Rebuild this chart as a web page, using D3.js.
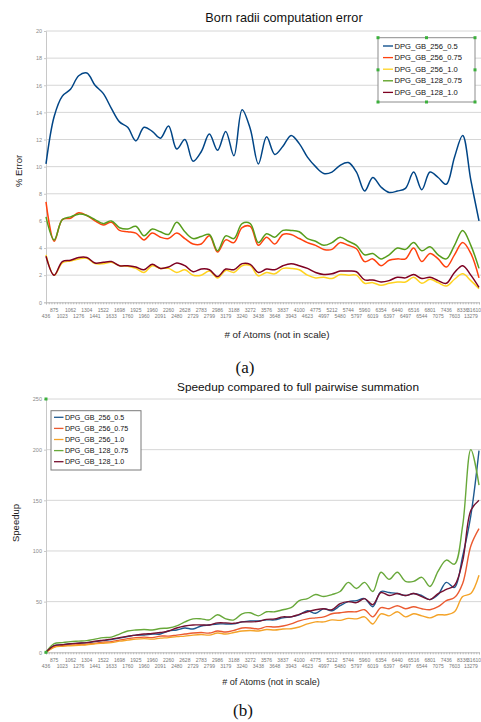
<!DOCTYPE html>
<html>
<head>
<meta charset="utf-8">
<script src="https://cdnjs.cloudflare.com/ajax/libs/d3/7.8.5/d3.min.js"></script>
<style>
  body { margin: 0; background: #fff; }
  svg { display: block; font-family: "Liberation Sans", Arial, sans-serif; }
</style>
</head>
<body>
<div class="figure"></div>
<script>
var atoms = ["436", "875", "1023", "1062", "1276", "1304", "1441", "1522", "1633", "1698",
    "1760", "1925", "1960", "1960", "2091", "2260", "2480", "2628", "2729", "2783",
    "2799", "2986", "3179", "3188", "3240", "3272", "3438", "3576", "3648", "3837",
    "3943", "4100", "4623", "4775", "4997", "5212", "5480", "5744", "5797", "5960",
    "6019", "6354", "6397", "6440", "6497", "6516", "6544", "6801", "7075", "7436",
    "7603", "8336", "13279", "31610"];
var seriesNames = ["DPG_GB_256_0.5", "DPG_GB_256_0.75", "DPG_GB_256_1.0", "DPG_GB_128_0.75", "DPG_GB_128_1.0"];

// (a) % error
var err256_05 = [10.2, 13.7, 15.2, 15.7, 16.7, 16.9, 16.0, 15.4, 14.3, 13.3,
    12.9, 11.9, 12.9, 12.6, 12.1, 13.0, 11.3, 12.0, 10.4, 11.1,
    12.4, 11.2, 12.6, 10.8, 14.2, 12.8, 10.2, 12.2, 10.9, 11.5,
    12.3, 11.7, 10.7, 10.0, 9.5, 9.6, 10.1, 10.3, 9.6, 8.2,
    9.2, 8.5, 8.1, 8.2, 8.4, 9.6, 8.3, 9.6, 9.2, 8.7,
    10.7, 12.3, 9.0, 6.0];
var err256_075 = [7.4, 4.5, 6.1, 6.2, 6.6, 6.4, 6.0, 5.7, 5.9, 5.3,
    5.2, 5.1, 4.6, 5.1, 4.8, 4.7, 5.1, 4.7, 4.3, 4.3,
    4.9, 3.7, 4.6, 4.4, 5.5, 5.6, 4.2, 4.8, 4.3, 5.0,
    5.0, 4.7, 4.4, 4.2, 3.9, 3.9, 4.4, 4.2, 3.95, 3.0,
    3.2, 2.7, 3.1, 3.2, 3.2, 4.0, 3.0, 3.6, 3.2, 2.6,
    3.5, 4.4, 3.6, 1.8];
var err256_10 = [3.5, 2.0, 2.9, 3.05, 3.2, 3.25, 2.85, 2.85, 2.95, 2.7,
    2.65, 2.5, 2.2, 2.7, 2.5, 2.5, 2.2, 2.4, 2.0, 2.0,
    2.3, 1.8, 2.35, 2.2, 2.7, 2.7, 1.95, 2.2, 2.1, 2.5,
    2.5, 2.4, 2.0, 1.8, 1.85, 1.75, 2.05, 2.0, 2.0, 1.4,
    1.45, 1.25, 1.4, 1.5, 1.5, 1.85, 1.4, 1.7, 1.45, 1.2,
    1.7, 2.1, 1.6, 1.0];
var err128_075 = [6.3, 4.6, 6.1, 6.3, 6.5, 6.4, 6.1, 5.8, 6.0, 5.5,
    5.4, 5.6, 4.9, 5.4, 5.2, 5.0, 5.9, 5.2, 4.7, 4.85,
    5.0, 3.8, 4.9, 4.7, 5.8, 5.8, 4.4, 5.05, 4.8, 5.3,
    5.3, 5.2, 4.7, 4.5, 4.2, 4.4, 4.8, 4.5, 4.2, 3.5,
    3.6, 3.2, 3.5, 4.0, 3.9, 4.4, 3.8, 4.1, 3.5, 3.2,
    4.2, 5.3, 4.2, 2.5];
var err128_10 = [3.4, 2.0, 3.0, 3.1, 3.3, 3.3, 2.9, 2.95, 3.0, 2.7,
    2.7, 2.6, 2.4, 2.8, 2.5, 2.6, 2.9, 2.7, 2.25, 2.45,
    2.4, 1.9, 2.45, 2.4, 2.85, 2.8, 2.2, 2.45, 2.4, 2.7,
    2.85, 2.7, 2.5, 2.2, 2.05, 2.1, 2.3, 2.3, 2.25, 1.65,
    1.65, 1.5, 1.6, 1.85, 1.8, 2.05, 1.75, 1.85, 1.6, 1.4,
    2.2, 2.7, 2.0, 1.1];

// (b) speedup
var sp256_05 = [0, 6.5, 7.5, 8.5, 9, 9.5, 10.5, 11.5, 12.5, 14,
    15.5, 17, 17, 18, 18, 21, 22, 24, 23, 26,
    27, 28, 28, 28, 30, 31, 31, 32, 32, 34,
    35, 37, 41, 38.5, 43, 41, 46, 50, 51, 53,
    45, 60, 59, 58, 56, 58, 56, 52, 57, 69,
    64, 95, 135, 199];
var sp256_075 = [0, 5.5, 6.5, 7, 7.5, 8, 9, 10, 10.5, 12,
    13.5, 14.5, 15, 14.5, 16, 16, 17, 18, 19, 19.5,
    19, 21, 20, 21.7, 24, 24, 23, 25.3, 25, 26,
    28, 31, 33, 34, 35, 38, 39, 40, 40, 42,
    35, 44, 43, 46, 43, 45, 43, 42, 45, 51,
    54, 68, 105, 122];
var sp256_10 = [0, 5, 6, 6.5, 7, 7.5, 8.5, 9, 9.5, 11,
    12, 13, 13.5, 13, 14, 14.5, 15.5, 16, 17, 17.5,
    17, 19, 18, 19.5, 21, 21.5, 21, 22.5, 22, 23,
    23.3, 25, 28, 30, 30, 32, 31.5, 33.5, 33, 35,
    28, 38, 36, 40, 35, 38, 36, 34, 37, 37,
    40, 55, 58, 76];
var sp128_075 = [0, 8.5, 9.5, 10.5, 11, 11.5, 13, 14.5, 15, 18,
    21, 22, 22.5, 22, 23.5, 24, 26, 30, 33, 33,
    32, 37, 33, 32, 38, 39, 36, 40, 40, 42,
    44, 51, 53, 57, 55, 57, 60, 69, 63, 69,
    60, 79, 72, 79, 70, 70, 74, 65, 80, 91,
    87, 125, 200, 165];
var sp128_10 = [0, 6.5, 7.5, 8.5, 9, 9.5, 11, 12, 13, 14.5,
    16, 17, 18, 18.5, 19.5, 21, 24, 26, 27, 27,
    27, 29, 29, 28.6, 30, 30, 30.5, 32.5, 33, 35,
    35, 37.5, 40, 42, 43, 42, 48, 50, 49, 53,
    47, 59, 56, 58, 56, 58, 55, 52, 58, 62,
    66, 90, 140, 150];

var svg = d3.select(".figure")
    .append("svg")
    .attr("width", 481)
    .attr("height", 722);

function handle(g, hx, hy) {
    g.append("rect")
        .attr("x", hx - 1.5).attr("y", hy - 1.5)
        .attr("width", 3).attr("height", 3)
        .attr("fill", "#3cb03c");
}

function drawChart(c) {
    var x = d3.scaleLinear().domain([0, atoms.length - 1]).range([46, 479]);
    var y = d3.scaleLinear().domain([0, c.yMax]).range([c.bottom, c.top]);
    var g = svg.append("g");

    // horizontal grid
    g.selectAll(".grid")
        .data(d3.range(c.yStep, c.yMax + 0.001, c.yStep))
        .enter().append("line")
        .attr("x1", 46).attr("x2", 481)
        .attr("y1", d => y(d)).attr("y2", d => y(d))
        .attr("stroke", "#d6d6d6")
        .attr("stroke-width", 1);

    // y axis
    var yAxis = g.append("g")
        .attr("transform", "translate(46,0)")
        .call(d3.axisLeft(y).tickValues(d3.range(0, c.yMax + 0.001, c.yStep)).tickSize(2).tickPadding(2));
    yAxis.selectAll("path, line").attr("stroke", "#c8c8c8");
    yAxis.selectAll("text").attr("font-size", "5.5px").attr("fill", "#8a8a8a")
        .style("font-family", "'Liberation Sans', Arial, sans-serif");

    // x axis with dense minor ticks
    var xAxis = g.append("g")
        .attr("transform", "translate(0," + c.bottom + ")")
        .call(d3.axisBottom(x).tickValues(d3.range(0, atoms.length - 1 + 0.001, 1 / 3)).tickSize(2).tickFormat(""));
    xAxis.selectAll("path, line").attr("stroke", "#b8b8b8");

    var last = atoms.length - 1;
    g.selectAll(".atom")
        .data(atoms)
        .enter().append("text")
        .text(d => d)
        .attr("x", (d, i) => i == last ? 481 : x(i))
        .attr("y", (d, i) => c.bottom + (i % 2 == 1 ? 9.5 : 15.5))
        .attr("text-anchor", (d, i) => i == last ? "end" : "middle")
        .attr("font-size", "5px")
        .attr("fill", "#777");

    // lines
    var line = d3.line()
        .x((d, i) => x(i))
        .y(d => y(d))
        .curve(d3.curveCatmullRom.alpha(0.5));

    g.selectAll(".series")
        .data(c.series)
        .enter().append("path")
        .attr("d", d => line(d))
        .attr("fill", "none")
        .attr("stroke", (d, i) => c.colors[i])
        .attr("stroke-width", c.lineWidth);

    // titles
    g.append("text")
        .text(c.title)
        .attr("x", c.titleX).attr("y", c.titleY)
        .attr("text-anchor", "middle")
        .attr("font-size", c.titleSize + "px")
        .attr("fill", "#111");

    g.append("text")
        .text(c.yLabel)
        .attr("transform", "translate(" + c.yLabelX + "," + c.yLabelY + ") rotate(-90)")
        .attr("text-anchor", "middle")
        .attr("font-size", "9.5px")
        .attr("fill", "#222");

    g.append("text")
        .text("# of Atoms (not in scale)")
        .attr("x", c.xLabelX).attr("y", c.xLabelY)
        .attr("text-anchor", "middle")
        .attr("font-size", c.xLabelSize + "px")
        .attr("fill", "#222");

    g.append("text")
        .text(c.caption)
        .attr("x", c.captionX).attr("y", c.captionY)
        .attr("text-anchor", "middle")
        .style("font-family", "'Liberation Serif', 'Times New Roman', serif")
        .attr("font-size", "17px")
        .attr("fill", "#111");

    // legend
    var L = c.legend;
    var lg = g.append("g");
    lg.append("rect")
        .attr("x", L.x0).attr("y", L.y0)
        .attr("width", L.x1 - L.x0).attr("height", L.y1 - L.y0)
        .attr("fill", "#fff")
        .attr("stroke", L.border)
        .attr("stroke-width", 1);
    var rows = lg.selectAll(".entry")
        .data(seriesNames)
        .enter().append("g")
        .attr("transform", (d, i) => "translate(0," + (L.row0 + i * L.rowStep) + ")");
    rows.append("line")
        .attr("x1", L.lineX0).attr("x2", L.lineX1)
        .attr("stroke", (d, i) => c.colors[i])
        .attr("stroke-width", 1.3);
    rows.append("text")
        .text(d => d)
        .attr("x", L.textX)
        .attr("dy", "0.35em")
        .attr("font-size", L.fontSize + "px")
        .attr("fill", "#111");
    if (L.handles) {
        var mx = (L.x0 + L.x1) / 2, my = (L.y0 + L.y1) / 2;
        [[L.x0, L.y0], [mx, L.y0], [L.x1, L.y0], [L.x0, my], [L.x1, my],
         [L.x0, L.y1], [mx, L.y1], [L.x1, L.y1]].forEach(p => handle(lg, p[0], p[1]));
    }
    if (c.cornerHandles) {
        handle(g, 46, c.top);
        handle(g, 46, c.bottom);
    }
}

drawChart({
    top: 31, bottom: 302.3, yMax: 20, yStep: 2, lineWidth: 1.5,
    series: [err256_05, err256_075, err256_10, err128_075, err128_10],
    colors: ["#004586", "#ff420e", "#ffd320", "#579d1c", "#7e0021"],
    title: "Born radii computation error", titleX: 284, titleY: 22, titleSize: 12.7,
    yLabel: "% Error", yLabelX: 22, yLabelY: 171,
    xLabelX: 277, xLabelY: 338, xLabelSize: 9.8,
    caption: "(a)", captionX: 245, captionY: 373,
    legend: { x0: 378, x1: 475, y0: 37.7, y1: 102, row0: 46, rowStep: 11.6,
        lineX0: 383, lineX1: 393, textX: 394.5, fontSize: 7.6, border: "#8c8c8c", handles: true },
    cornerHandles: false
});

drawChart({
    top: 399, bottom: 652.3, yMax: 250, yStep: 50, lineWidth: 1.4,
    series: [sp256_05, sp256_075, sp256_10, sp128_075, sp128_10],
    colors: ["#1f5a90", "#eb5a30", "#f4a328", "#68a83a", "#751030"],
    title: "Speedup compared to full pairwise summation", titleX: 298, titleY: 391, titleSize: 11.8,
    yLabel: "Speedup", yLabelX: 19, yLabelY: 523,
    xLabelX: 271, xLabelY: 685, xLabelSize: 9.1,
    caption: "(b)", captionX: 243, captionY: 716,
    legend: { x0: 51, x1: 141, y0: 410.7, y1: 470, row0: 417.3, rowStep: 11.1,
        lineX0: 54, lineX1: 63.5, textX: 65, fontSize: 7.1, border: "#7a7a7a", handles: false },
    cornerHandles: true
});
</script>
</body>
</html>
